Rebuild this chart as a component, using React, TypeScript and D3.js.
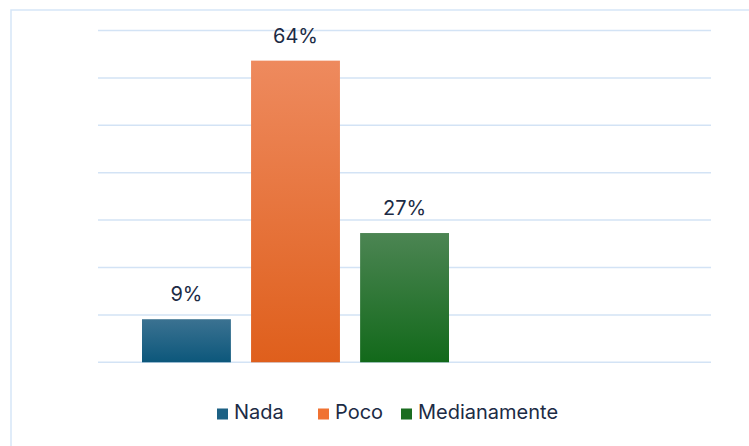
import React from "react";
import * as d3 from "d3";

const categories = ["Nada", "Poco", "Medianamente"];
const values = [9.09, 63.64, 27.27];
const labels = ["9%", "64%", "27%"];
const yTicks = [0, 10, 20, 30, 40, 50, 60, 70];
const colorsTop = ["#3b7291", "#ee8a5e", "#4c8553"];
const colorsBottom = ["#0c577b", "#df5f1c", "#12691a"];
const legendColors = ["#1c6184", "#f07232", "#1b6d20"];

const W = 749;
const H = 446;

export default function App() {
  const y = d3.scaleLinear().domain([0, 70]).range([362.3, 30.5]);
  const x = d3.scaleBand<string>().domain(categories).range([142, 449]).paddingInner(0.185).paddingOuter(0);
  const font = "Inter, 'Liberation Sans', Arial, sans-serif";
  const legendX = [217, 318, 401];
  return (
    <svg width={W} height={H} style={{ position: "absolute", left: 0, top: 0 }}>
      <defs>
        {categories.map((c, i) => (
          <linearGradient key={c} id={`g${i}`} x1="0" y1="0" x2="0" y2="1">
            <stop offset="0" stopColor={colorsTop[i]} />
            <stop offset="1" stopColor={colorsBottom[i]} />
          </linearGradient>
        ))}
      </defs>
      <rect x={0} y={0} width={W} height={H} fill="#fff" />
      <rect x={11} y={10} width={W} height={H} fill="#fff" stroke="#d6e6f7" strokeWidth={1.5} />
      {yTicks.map((t) => (
        <line key={t} x1={98} x2={711} y1={y(t)} y2={y(t)} stroke="#d3e3f5" strokeWidth={1.5} />
      ))}
      {categories.map((c, i) => (
        <g key={c}>
          <rect x={x(c)} y={y(values[i])} width={x.bandwidth()} height={y(0) - y(values[i])} fill={`url(#g${i})`} />
          <text x={(x(c) as number) + x.bandwidth() / 2} y={y(values[i]) - 18} textAnchor="middle" fontFamily={font} fontSize={20} fontWeight={400} fill="#1c2b45">
            {labels[i]}
          </text>
        </g>
      ))}
      {categories.map((c, i) => (
        <g key={`l${c}`}>
          <rect x={legendX[i]} y={408.5} width={11} height={11} fill={legendColors[i]} />
          <text x={legendX[i] + 17} y={419} fontFamily={font} fontSize={20} fontWeight={400} fill="#1c2b45">
            {c}
          </text>
        </g>
      ))}
    </svg>
  );
}
